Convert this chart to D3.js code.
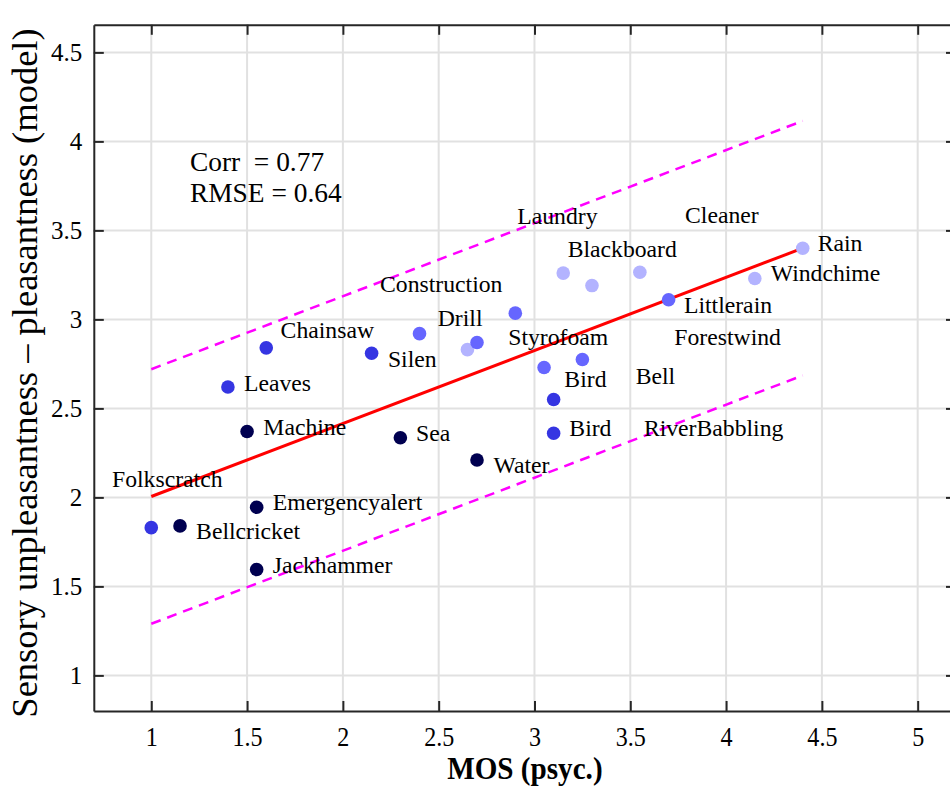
<!DOCTYPE html>
<html>
<head>
<meta charset="utf-8">
<script src="https://cdn.jsdelivr.net/npm/d3@7"></script>
<style>
  body { margin: 0; background: #fff; }
  text { font-family: "Liberation Serif", "Times New Roman", serif; fill: #000; }
</style>
</head>
<body>
<div id="scatter"></div>
<script>
// sound names and values
const names = ["Folkscratch", "Leaves", "Chainsaw", "Silen", "Bird", "Bird",
    "Machine", "Sea", "Water", "Emergencyalert", "Bellcricket", "Jackhammer",
    "Laundry", "Blackboard", "Cleaner", "Windchime", "Rain", "Drill-light",
    "Construction", "Drill", "Styrofoam", "Bell", "Forestwind", "Littlerain"]
const mos = [1.00, 1.40, 1.60, 2.15, 3.10, 3.10,
    1.50, 2.30, 2.70, 1.55, 1.15, 1.55,
    3.15, 3.30, 3.55, 4.15, 4.40, 2.65,
    2.40, 2.70, 2.90, 3.05, 3.25, 3.70]
const model = [1.83, 2.62, 2.84, 2.81, 2.55, 2.36,
    2.37, 2.335, 2.21, 1.945, 1.84, 1.595,
    3.26, 3.19, 3.265, 3.23, 3.40, 2.83,
    2.92, 2.87, 3.035, 2.73, 2.775, 3.11]
// colour group per point: 0 navy, 1 blue, 2 medium, 3 light
const group = [1, 1, 1, 1, 1, 1,
    0, 0, 0, 0, 0, 0,
    3, 3, 3, 3, 3, 3,
    2, 2, 2, 2, 2, 2]
const groupColors = ["#000050", "#3535e2", "#6666ff", "#b3b3ff"]

// text labels (left edge, baseline) in data units
const labelText = ["Folkscratch", "Bellcricket", "Jackhammer", "Emergencyalert", "Machine",
    "Sea", "Water", "Leaves", "Chainsaw", "Silen", "Construction", "Drill", "Laundry",
    "Cleaner", "Blackboard", "Rain", "Windchime", "Littlerain", "Styrofoam", "Forestwind",
    "Bird", "Bell", "Bird", "RiverBabbling"]
const labelX = [0.795, 1.234, 1.634, 1.634, 1.585,
    2.382, 2.786, 1.484, 1.675, 2.235, 2.194, 2.495, 2.91,
    3.786, 3.173, 4.478, 4.233, 3.78, 2.863, 3.73,
    3.156, 3.528, 3.182, 3.571]
const labelY = [2.058, 1.768, 1.575, 1.927, 2.348,
    2.315, 2.139, 2.597, 2.895, 2.73, 3.153, 2.961, 3.537,
    3.54, 3.353, 3.384, 3.213, 3.035, 2.858, 2.854,
    2.62, 2.639, 2.343, 2.343]

// fit line and confidence band ends
const fitX = [1.0, 4.4]
const fitY = [2.005, 3.40]
const upperY = [2.72, 4.115]
const lowerY = [1.29, 2.685]

const statsText = ["Corr  = 0.77", "RMSE = 0.64"]
const statsX = [1.202, 1.202]
const statsY = [3.834, 3.66]

const xTicks = [1, 1.5, 2, 2.5, 3, 3.5, 4, 4.5, 5]
const yTicks = [1, 1.5, 2, 2.5, 3, 3.5, 4, 4.5]

class ScatterVis {
    constructor(parentElement) {
        this.parentElement = parentElement
        this.initVis()
    }

    initVis() {
        let vis = this
        vis.width = 950
        vis.height = 791

        vis.svg = d3.select("#" + vis.parentElement).append("svg")
            .attr("width", vis.width)
            .attr("height", vis.height)

        // scales (right border sits just past the window edge)
        vis.x = d3.scaleLinear().domain([0.7, 5.2]).range([93.8, 956])
        vis.y = d3.scaleLinear().domain([0.8, 4.655]).range([711, 24.8])

        vis.drawGrid()
        vis.drawAxes()
        vis.drawLines()
        vis.drawPoints()
        vis.drawText()
    }

    drawGrid() {
        let vis = this
        let g = vis.svg.append("g").attr("class", "grid")
        g.selectAll(".gx").data(xTicks).enter().append("line")
            .attr("x1", d => vis.x(d)).attr("x2", d => vis.x(d))
            .attr("y1", vis.y.range()[0]).attr("y2", vis.y.range()[1])
            .attr("stroke", "#e1e1e1").attr("stroke-width", 2)
        g.selectAll(".gy").data(yTicks).enter().append("line")
            .attr("y1", d => vis.y(d)).attr("y2", d => vis.y(d))
            .attr("x1", vis.x.range()[0]).attr("x2", vis.x.range()[1])
            .attr("stroke", "#e1e1e1").attr("stroke-width", 2)
    }

    drawAxes() {
        let vis = this
        let [yb, yt] = vis.y.range()
        let [xl, xr] = vis.x.range()

        vis.xAxis = vis.svg.append("g")
            .attr("class", "axis axis--x")
            .attr("transform", "translate(0," + yb + ")")
            .call(d3.axisBottom(vis.x).tickValues(xTicks).tickSizeInner(-10).tickSizeOuter(0)
                .tickPadding(0).tickFormat(d3.format("")))
        vis.xAxis.selectAll("text")
            .attr("y", 35).attr("dy", 0)
            .attr("transform", "scale(0.86,1)")
            .style("font-size", "28px")

        vis.svg.append("g")
            .attr("class", "axis axis--top")
            .attr("transform", "translate(0," + yt + ")")
            .call(d3.axisTop(vis.x).tickValues(xTicks).tickSizeInner(-10).tickSizeOuter(0)
                .tickFormat(""))

        vis.yAxis = vis.svg.append("g")
            .attr("class", "axis axis--y")
            .attr("transform", "translate(" + xl + ",0)")
            .call(d3.axisLeft(vis.y).tickValues(yTicks).tickSizeInner(-10).tickSizeOuter(0)
                .tickPadding(0).tickFormat(d3.format("")))
        vis.yAxis.selectAll("text")
            .attr("x", -11.5)
            .style("font-size", "25px")

        vis.svg.append("g")
            .attr("class", "axis axis--right")
            .attr("transform", "translate(" + xr + ",0)")
            .call(d3.axisRight(vis.y).tickValues(yTicks).tickSizeInner(-10).tickSizeOuter(0)
                .tickFormat(""))

        vis.svg.selectAll(".axis path, .axis line")
            .attr("stroke", "#262626").attr("stroke-width", 2)
        vis.svg.selectAll(".axis text")
            .attr("fill", "#1a1a1a")
            .style("font-family", "'Liberation Serif', serif")

        // axis titles
        vis.svg.append("text")
            .attr("transform", "translate(" + ((xl + xr) / 2) + ",779) scale(0.94,1)")
            .attr("text-anchor", "middle")
            .style("font-size", "31px").style("font-weight", "bold")
            .attr("fill", "#1a1a1a")
            .text("MOS (psyc.)")

        vis.svg.append("text")
            .attr("transform", "translate(37," + 373 + ") rotate(-90)")
            .attr("text-anchor", "middle")
            .style("font-size", "36.5px")
            .attr("fill", "#1a1a1a")
            .text("Sensory unpleasantness \u2013 pleasantness (model)")
    }

    drawLines() {
        let vis = this
        let line = d3.line().x(d => vis.x(d[0])).y(d => vis.y(d[1]))

        vis.svg.append("path")
            .datum(fitX.map((d, i) => [d, upperY[i]]))
            .attr("d", line).attr("fill", "none")
            .attr("stroke", "#ff00ff").attr("stroke-width", 2.5)
            .attr("stroke-dasharray", "10,7")
        vis.svg.append("path")
            .datum(fitX.map((d, i) => [d, lowerY[i]]))
            .attr("d", line).attr("fill", "none")
            .attr("stroke", "#ff00ff").attr("stroke-width", 2.5)
            .attr("stroke-dasharray", "10,7")
        vis.svg.append("path")
            .datum(fitX.map((d, i) => [d, fitY[i]]))
            .attr("d", line).attr("fill", "none")
            .attr("stroke", "#ff0000").attr("stroke-width", 3)
    }

    drawPoints() {
        let vis = this
        let pts = names.map((n, i) => ({name: n, x: mos[i], y: model[i], g: group[i]}))
        vis.svg.selectAll(".dot")
            .data(pts)
            .enter().append("circle")
            .attr("class", "dot")
            .attr("cx", d => vis.x(d.x))
            .attr("cy", d => vis.y(d.y))
            .attr("r", 6.8)
            .attr("fill", d => groupColors[d.g])
    }

    drawText() {
        let vis = this
        vis.svg.selectAll(".label")
            .data(labelText)
            .enter().append("text")
            .attr("class", "label")
            .attr("x", (d, i) => vis.x(labelX[i]))
            .attr("y", (d, i) => vis.y(labelY[i]))
            .style("font-size", "23.7px")
            .text(d => d)

        vis.svg.selectAll(".stats")
            .data(statsText)
            .enter().append("text")
            .attr("class", "stats")
            .attr("x", (d, i) => vis.x(statsX[i]))
            .attr("y", (d, i) => vis.y(statsY[i]))
            .style("font-size", "27.4px")
            .style("white-space", "pre")
            .attr("xml:space", "preserve")
            .text(d => d)
    }
}

let scatter = new ScatterVis("scatter")
</script>
</body>
</html>
